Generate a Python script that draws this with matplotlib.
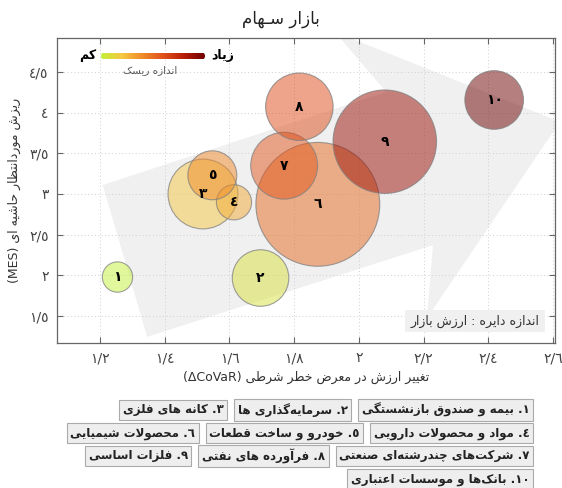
import numpy as np
import matplotlib
matplotlib.use("Agg")
import matplotlib.pyplot as plt
from matplotlib.colors import LinearSegmentedColormap
from matplotlib.patches import Polygon, Rectangle, FancyBboxPatch

plt.rcParams['font.family'] = ['DejaVu Sans']

# data
sectors = ["بیمه و صندوق بازنشستگی", "سرمایه\u200cگذاری ها", "کانه های فلزی",
           "مواد و محصولات دارویی", "خودرو و ساخت قطعات", "محصولات شیمیایی",
           "شرکت\u200cهای چندرشته\u200cای صنعتی", "فرآورده های نفتی", "فلزات اساسی",
           "بانک\u200cها و موسسات اعتباری"]
covar = [1.254, 1.696, 1.518, 1.614, 1.547, 1.873, 1.769, 1.816, 2.080, 2.418]
mes = [1.979, 1.967, 3.000, 2.898, 3.230, 2.873, 3.348, 4.073, 3.643, 4.156]
market_value = [23, 80, 122, 31, 60, 384, 112, 114, 268, 86]
risk = [0.0, 0.08, 0.2, 0.3, 0.4, 0.52, 0.58, 0.62, 0.88, 1.0]
xticks = [1.2, 1.4, 1.6, 1.8, 2.0, 2.2, 2.4, 2.6]
yticks = [1.5, 2.0, 2.5, 3.0, 3.5, 4.0, 4.5]

# --- minimal Persian shaping (matplotlib has no complex text layout) ---
DUAL = {'ب': 0xFE8F, 'پ': 0xFB56, 'ت': 0xFE95, 'ث': 0xFE99, 'ج': 0xFE9D, 'چ': 0xFB7A,
        'ح': 0xFEA1, 'خ': 0xFEA5, 'س': 0xFEB1, 'ش': 0xFEB5, 'ص': 0xFEB9, 'ض': 0xFEBD,
        'ط': 0xFEC1, 'ظ': 0xFEC5, 'ع': 0xFEC9, 'غ': 0xFECD, 'ف': 0xFED1, 'ق': 0xFED5,
        'ک': 0xFB8E, 'ك': 0xFED9, 'گ': 0xFB92, 'ل': 0xFEDD, 'م': 0xFEE1, 'ن': 0xFEE5,
        'ه': 0xFEE9, 'ی': 0xFBFC, 'ي': 0xFEF1, 'ئ': 0xFE89}
RIGHT = {'ا': 0xFE8D, 'آ': 0xFE81, 'د': 0xFEA9, 'ذ': 0xFEAB, 'ر': 0xFEAD, 'ز': 0xFEAF,
         'ژ': 0xFB8A, 'و': 0xFEED, 'ة': 0xFE93}
TATWEEL = '\u0640'


def joins_next(c):
    return c in DUAL or c == TATWEEL


def joins_prev(c):
    return c in DUAL or c in RIGHT or c == TATWEEL


def shape(s):
    out = []
    i = 0
    n = len(s)
    while i < n:
        c = s[i]
        prev = s[i - 1] if i > 0 else ''
        nxt = s[i + 1] if i + 1 < n else ''
        cp = bool(prev) and joins_next(prev) and joins_prev(c)
        if c == 'ل' and nxt in ('ا', 'آ'):
            base = 0xFEFB if nxt == 'ا' else 0xFEF5
            out.append(chr(base + (1 if cp else 0)))
            i += 2
            continue
        cn = bool(nxt) and joins_next(c) and joins_prev(nxt)
        if c in DUAL:
            b = DUAL[c]
            out.append(chr(b + 3 if cp and cn else b + 1 if cp else b + 2 if cn else b))
        elif c in RIGHT:
            out.append(chr(RIGHT[c] + (1 if cp else 0)))
        elif c != '\u200c':
            out.append(c)
        i += 1
    return ''.join(out)


def is_ltr(c):
    return (c.isascii() and c.isalnum()) or c in '٠١٢٣٤٥٦٧٨٩Δ'


def fa(s):
    s = shape(s)
    runs = []
    for c in s:
        ltr = is_ltr(c)
        if runs and runs[-1][0] == ltr:
            runs[-1][1].append(c)
        else:
            runs.append([ltr, [c]])
    mirror = {'(': ')', ')': '('}
    parts = []
    for ltr, chars in reversed(runs):
        if ltr:
            parts.append(''.join(chars))
        else:
            parts.append(''.join(mirror.get(c, c) for c in reversed(chars)))
    return ''.join(parts)


DIG = str.maketrans('0123456789', '٠١٢٣٤٥٦٧٨٩')


def fa_num(v):
    return ('%g' % round(v, 2)).replace('.', '/').translate(DIG)


W, H = 562, 488
fig = plt.figure(figsize=(W / 100, H / 100), dpi=100)
ax = fig.add_axes([57 / W, 1 - 343 / H, 498 / W, 305 / H])

cmap = LinearSegmentedColormap.from_list('risk', [
    (0.0, '#c4f03a'), (0.2, '#f5c842'), (0.4, '#f08a28'),
    (0.6, '#e0501a'), (0.8, '#b81c08'), (1.0, '#6e0000')])

# background arrow
arrow = Polygon([(0.092, 0.518), (0.661, 0.823), (0.558, 1.02), (1.01, 0.725),
                 (0.743, 0.082), (0.755, 0.321), (0.181, 0.020)],
                closed=True, transform=ax.transAxes, fc='#f0f0f0', ec='none', zorder=0.2)
ax.add_patch(arrow)

faces = cmap(np.array(risk))
faces[:, 3] = 0.5
ax.scatter(covar, mes, s=np.array(market_value) * 20.7, c=faces,
           edgecolors=(0.5, 0.5, 0.5, 0.75), linewidths=0.8, zorder=2)
for i, (x, y) in enumerate(zip(covar, mes)):
    ax.text(x, y, fa_num(i + 1), ha='center', va='center', fontsize=10,
            fontweight='bold', color='black', zorder=3)

ax.set_xlim(1.067, 2.606)
ax.set_ylim(1.168, 4.918)
ax.set_xticks(xticks)
ax.set_yticks(yticks)
ax.set_xticklabels([fa_num(v) for v in xticks])
ax.set_yticklabels([fa_num(v) for v in yticks])
ax.tick_params(direction='in', length=4, width=0.8, color='#666666', labelcolor='#444444',
               labelsize=10, top=True, right=True, pad=6)
ax.grid(True, linestyle=(0, (1, 2.5)), color='#cfcfcf', linewidth=0.7)
ax.set_axisbelow(True)
for sp in ax.spines.values():
    sp.set_color('#666666')
    sp.set_linewidth(0.9)

ax.set_xlabel(fa('تغییر ارزش در معرض خطر شرطی (ΔCoVaR)'), fontsize=9, color='#333333', labelpad=4)
ax.set_ylabel(fa('ریزش موردانتظار حاشیه ای (MES)'), fontsize=9, color='#333333', labelpad=6)
fig.text(281 / W, 1 - 19 / H, fa('بازار سـهام'), ha='center', va='center', fontsize=12, color='#222222')

# market value note
ax.add_patch(Rectangle((0.699, 0.036), 0.281, 0.072, transform=ax.transAxes,
                       fc='#f0f0f0', ec='none', zorder=4))
ax.text(0.839, 0.072, fa('اندازه دایره : ارزش بازار'), transform=ax.transAxes,
        ha='center', va='center', fontsize=9, color='#333333', zorder=5)

# risk color legend
cax = fig.add_axes([101 / W, 1 - 59.5 / H, 104 / W, 7 / H])
im = cax.imshow(np.linspace(0, 1, 256)[None, :], cmap=cmap, aspect='auto', extent=[0, 104, 0, 7])
cax.set_xlim(0, 104)
cax.set_ylim(0, 7)
cax.set_axis_off()
clip = FancyBboxPatch((0, 0), 104, 7, boxstyle='round,pad=0,rounding_size=3.5',
                      transform=cax.transData, fc='none', ec='none')
cax.add_patch(clip)
im.set_clip_path(clip)
fig.text(96 / W, 1 - 56 / H, fa('کم'), ha='right', va='center', fontsize=9, fontweight='bold')
fig.text(211 / W, 1 - 56 / H, fa('زیاد'), ha='left', va='center', fontsize=9, fontweight='bold')
fig.text(150 / W, 1 - 70 / H, fa('اندازه ریسک'), ha='center', va='center', fontsize=7.5, color='#555555')

# sector legend boxes, laid out right to left
rows = [[0, 1, 2], [3, 4, 5], [6, 7, 8], [9]]
row_y = [410, 433, 456, 479]
fs = 8.5
pad = 0.3
pad_px = pad * fs * 100 / 72
renderer = fig.canvas.get_renderer()
for row, y in zip(rows, row_y):
    right = 533
    for i in row:
        label = fa(str(i + 1).translate(DIG) + '. ' + sectors[i])
        t = fig.text((right - pad_px) / W, 1 - y / H, label, ha='right', va='center',
                     fontsize=fs, fontweight='bold', color='#222222',
                     bbox=dict(boxstyle='square,pad=%g' % pad, fc='#eeeeee', ec='#aaaaaa', lw=0.8))
        bb = t.get_window_extent(renderer)
        right = bb.x0 - pad_px - 7

fig.savefig('out.png', dpi=100)
